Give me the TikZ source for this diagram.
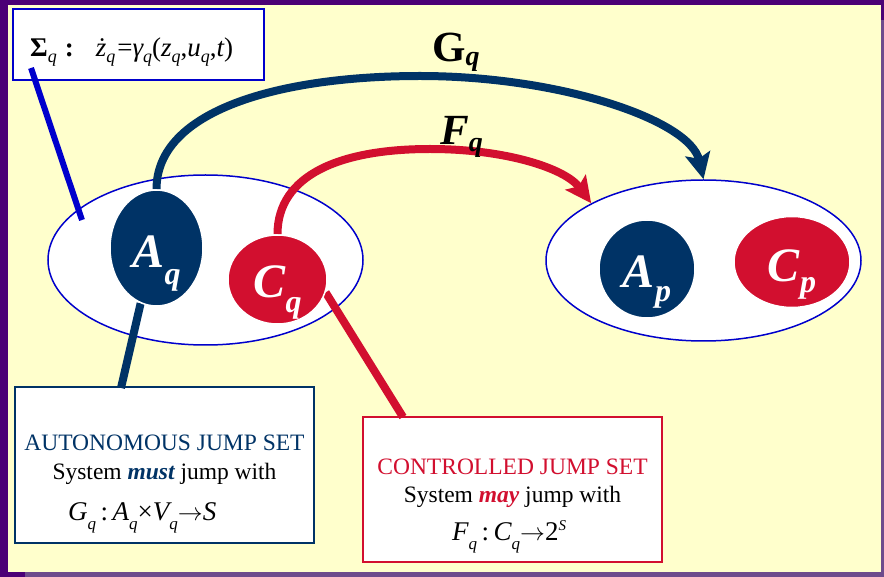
\documentclass[tikz,border=0pt]{standalone}
\usepackage{fontspec}
\setmainfont{Liberation Serif}
\usetikzlibrary{shapes.geometric,arrows.meta}
\definecolor{outer}{HTML}{4B0076}
\definecolor{strip}{HTML}{6E4B8C}
\definecolor{paper}{HTML}{FFFFCC}
\definecolor{navy}{HTML}{003366}
\definecolor{crim}{HTML}{D20F2F}
\definecolor{rimblue}{HTML}{0000CC}
\pgfdeclarelayer{bg}\pgfdeclarelayer{wires}
\pgfsetlayers{bg,wires,main}
\newcommand{\lowr}[3]{\raisebox{-#1}{\fontsize{#2}{#2}\selectfont #3}}
\newcommand{\nlab}[4]{\raisebox{-#3}[0pt][0pt]{\fontsize{48}{48}\selectfont\bfseries\itshape #1\raisebox{-#4}{\fontsize{32}{32}\selectfont #2}}}
\begin{document}
\begin{tikzpicture}[x=1pt,y=-1pt,
  bigell/.style={ellipse,draw=rimblue,line width=1.5pt,fill=white,inner sep=0pt},
  setnode/.style={ellipse,draw=white,line width=1.5pt,inner sep=0pt,text=white},
  infobox/.style={rectangle,fill=white,line width=2pt,inner sep=0pt},
  txt/.style={inner sep=0pt,anchor=base,font=\fontsize{23.5}{23.5}\selectfont},
  frm/.style={inner sep=0pt,anchor=base west,font=\fontsize{27}{27}\selectfont},
  jumparrow/.style={line width=8pt,-{Stealth[length=26pt,width=25pt,inset=5pt]}},
  wire/.style={line width=8pt}]
\begin{pgfonlayer}{bg}
  \fill[outer] (0,0) rectangle (884,577);
  \fill[strip] (881,20) rectangle (884,577);
  \fill[strip] (25,572) rectangle (884,577);
  \fill[paper] (8,5) rectangle (881,572);
  \useasboundingbox (0,0) rectangle (884,577);
  \node[bigell,minimum width=315pt,minimum height=170pt] (Lq) at (205.5,260) {};
  \node[bigell,minimum width=315pt,minimum height=161pt] (Rp) at (703.5,260.5) {};
  \node[infobox,draw=rimblue,minimum width=251pt,minimum height=71pt] (sig) at (138.5,44.5) {};
  \node[infobox,draw=navy,minimum width=299pt,minimum height=156pt] (auto) at (164.5,465) {};
  \node[infobox,draw=crim,minimum width=299pt,minimum height=145pt] (ctrl) at (512.5,489.5) {};
\end{pgfonlayer}

\node[setnode,fill=navy,minimum width=93pt,minimum height=116pt] (Aq) at (156.5,248) {\nlab{A}{q}{20pt}{17pt}};
\node[setnode,fill=crim,minimum width=99pt,minimum height=89pt] (Cq) at (277.5,279.5) {\nlab{C}{q}{18.5pt}{15pt}};
\node[setnode,fill=navy,minimum width=96pt,minimum height=98pt] (Ap) at (647,269) {\nlab{A}{p}{19pt}{14pt}};
\node[setnode,fill=crim,minimum width=116pt,minimum height=91pt] (Cp) at (792,262) {\nlab{C}{p}{20pt}{11pt}};

\coordinate (s1) at (31,68);
\coordinate (s2) at (82,220);
\coordinate (ab) at (121,388);
\coordinate (cb) at (403,417);
\coordinate (gtop) at (420,76);
\coordinate (ftop) at (430,149);

\begin{pgfonlayer}{wires}
  \draw[rimblue,line width=6pt] (s1) -- (s2);
  \draw[navy,wire] (Aq.-106) -- (ab);
  \draw[crim,wire] (Cq.-15) -- (cb);
  \draw[navy,jumparrow] (Aq.north) .. controls (156.5,110) and (280,76) .. (gtop)
     .. controls (560,76) and (690,120) .. (Rp.north);
  \draw[crim,jumparrow] (Cq.north) .. controls (277.5,175) and (340,149) .. (ftop)
     .. controls (505,149) and (565,168) .. (Rp.153);
\end{pgfonlayer}

\node[inner sep=0pt,anchor=base west,font=\fontsize{27}{27}\selectfont] (sigtxt) at (30,57)
  {\textbf{Σ}\lowr{6pt}{18}{\itshape q}\hspace{8pt}\textbf{:}\hspace{22pt}\itshape ż\lowr{6pt}{18}{q}\hspace{2pt}\upshape =\itshape γ\lowr{6pt}{18}{q}\upshape (\itshape z\lowr{6pt}{18}{q}\upshape ,\itshape u\lowr{6pt}{18}{q}\upshape ,\itshape t\upshape )};

\node[inner sep=0pt,anchor=base west,font=\fontsize{43}{43}\selectfont\bfseries] (Glab) at (432,62)
  {G\lowr{4pt}{28}{\itshape q}};
\node[inner sep=0pt,anchor=base west,font=\fontsize{43}{43}\selectfont\bfseries\itshape] (Flab) at (440,145)
  {F\lowr{7pt}{28}{q}};

\node[txt,text=navy] (a1) at (164.5,450) {AUTONOMOUS JUMP SET};
\node[txt] (a2) at (164.5,479) {System \textcolor{navy}{\bfseries\itshape must} jump with};
\node[frm] (a3) at (68,520) {\itshape G\lowr{9pt}{17}{q}\upshape\,:\,\itshape A\lowr{9pt}{17}{q}\upshape ×\itshape V\lowr{9pt}{17}{q}\(\rightarrow\)\itshape S};

\node[txt,text=crim] (c1) at (512.5,474) {CONTROLLED JUMP SET};
\node[txt] (c2) at (512.5,502) {System \textcolor{crim}{\bfseries\itshape may} jump with};
\node[frm] (c3) at (452,540) {\itshape F\lowr{9pt}{17}{q}\upshape\,:\,\itshape C\lowr{9pt}{17}{q}\(\rightarrow\)\upshape 2\raisebox{10pt}{\fontsize{15}{15}\selectfont\itshape S}};
\end{tikzpicture}
\end{document}
